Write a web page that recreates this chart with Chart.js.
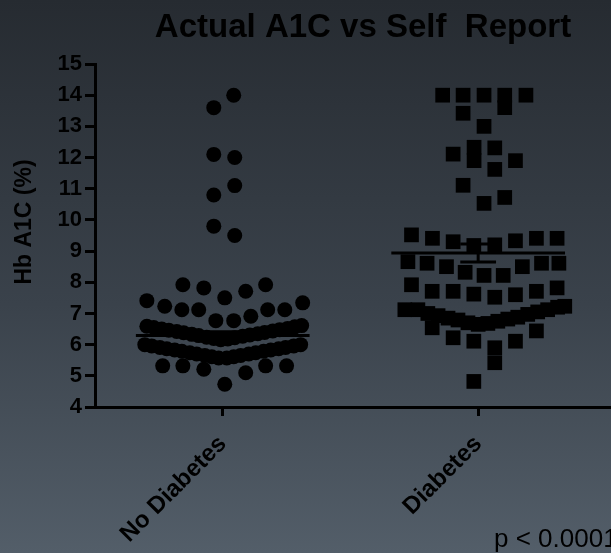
<!DOCTYPE html>
<html>
<head>
<meta charset="utf-8">
<script src="https://cdn.jsdelivr.net/npm/chart.js@4.4.1/dist/chart.umd.min.js"></script>
<style>
    html, body { margin: 0; padding: 0; }
    body {
        width: 611px;
        height: 553px;
        overflow: hidden;
        background: linear-gradient(to bottom, #262b31 0%, #3a424b 55%, #535e69 100%);
    }
    canvas { display: block; }
</style>
</head>
<body>
<canvas id="a1cChart" width="611" height="553"></canvas>
<script>
// groups on the x axis
const groupLabels = ['No Diabetes', 'Diabetes'];
const groupCenters = [0.5, 1.5];

// mean and SEM bars
const groupMeans = [6.29, 8.94];
const groupSem = [0.12, 0.29];

// Hb A1C values (%) and their horizontal scatter offset, No Diabetes
const noDiabetesA1c = [
    14.0, 13.6, 12.1, 12.0, 11.1, 10.8, 9.8, 9.5,
    7.41, 7.23, 7.92, 7.12, 7.82, 7.12, 6.77, 7.5, 6.77, 7.71, 6.91, 7.92, 7.12, 7.12, 7.34,
    5.32, 5.32, 5.21, 4.73, 5.1, 5.32, 5.32,
    6.59, 6.55, 6.50, 6.46, 6.42, 6.38, 6.33, 6.29, 6.24, 6.20, 6.16,
    6.18, 6.22, 6.27, 6.31, 6.35, 6.39, 6.44, 6.48, 6.52, 6.57, 6.61,
    6.0, 5.96, 5.91, 5.87, 5.83, 5.79, 5.74, 5.70, 5.65, 5.61, 5.57,
    5.57, 5.61, 5.65, 5.70, 5.74, 5.79, 5.83, 5.87, 5.91, 5.96, 6.0
];
const noDiabetesJitter = [
    0.043, -0.035, -0.035, 0.047, 0.047, -0.035, -0.035, 0.047,
    -0.297, -0.227, -0.156, -0.160, -0.074, -0.094, -0.027, 0.008, 0.043, 0.090, 0.110, 0.168, 0.176, 0.243, 0.313,
    -0.235, -0.156, -0.074, 0.008, 0.090, 0.168, 0.250,
    -0.297, -0.270, -0.239, -0.211, -0.180, -0.153, -0.121, -0.094, -0.063, -0.035, -0.008,
    0.020, 0.047, 0.078, 0.106, 0.137, 0.164, 0.196, 0.223, 0.254, 0.282, 0.309,
    -0.305, -0.278, -0.246, -0.219, -0.188, -0.160, -0.129, -0.102, -0.070, -0.043, -0.016,
    0.016, 0.043, 0.070, 0.102, 0.129, 0.160, 0.188, 0.219, 0.246, 0.278, 0.305
];

// Hb A1C values (%) and their horizontal scatter offset, Diabetes
const diabetesA1c = [
    14.0, 14.0, 14.0, 14.0, 13.6, 14.0, 13.42, 13.0,
    12.11, 12.33, 11.9, 12.31, 11.9, 11.62, 11.11, 10.53, 10.72,
    9.52, 9.41, 9.3, 9.18, 9.2, 9.33, 9.41, 9.41,
    8.66, 8.61, 8.5, 8.32, 8.22, 8.22, 8.5, 8.61, 8.61,
    7.92, 7.71, 7.71, 7.62, 7.52, 7.6, 7.71, 7.82,
    7.12, 7.12, 7.0, 6.93, 6.85, 6.79, 6.7, 6.65, 6.68, 6.75, 6.82, 6.88, 6.97, 7.05, 7.12, 7.2, 7.23,
    6.54, 6.22, 6.11, 5.9, 5.42, 6.11, 6.44, 4.82
];
const diabetesJitter = [
    -0.139, -0.059, 0.023, 0.104, 0.104, 0.187, -0.059, 0.023,
    -0.098, -0.016, -0.016, 0.065, 0.146, 0.065, -0.059, 0.023, 0.104,
    -0.261, -0.179, -0.098, -0.017, 0.065, 0.146, 0.228, 0.309,
    -0.275, -0.200, -0.124, -0.051, 0.023, 0.098, 0.173, 0.248, 0.316,
    -0.261, -0.180, -0.098, -0.017, 0.065, 0.146, 0.228, 0.309,
    -0.287, -0.236, -0.197, -0.157, -0.118, -0.079, -0.040, 0.000, 0.038, 0.077, 0.116, 0.155, 0.194, 0.233, 0.272, 0.311, 0.339,
    -0.180, -0.098, -0.017, 0.065, 0.065, 0.146, 0.228, -0.017
];

const FONT = "'Liberation Sans', Arial, sans-serif";

function groupPoints(values, jitter, group) {
    return values.map((v, i) => ({x: groupCenters[group] + jitter[i], y: v}));
}

// mean line + SEM bar with caps, broken by null points
function summaryLines(group) {
    const c = groupCenters[group], m = groupMeans[group], s = groupSem[group];
    return [
        {x: c - 0.34, y: m}, {x: c + 0.34, y: m}, {x: c, y: null},
        {x: c, y: m - s}, {x: c, y: m + s}, {x: c, y: null},
        {x: c - 0.07, y: m + s}, {x: c + 0.07, y: m + s}, {x: c, y: null},
        {x: c - 0.07, y: m - s}, {x: c + 0.07, y: m - s}
    ];
}

// title, y title and p value
const textPlugin = {
    id: 'texts',
    afterDraw(chart) {
        const ctx = chart.ctx;
        ctx.save();
        ctx.fillStyle = '#000';
        ctx.textAlign = 'center';
        ctx.textBaseline = 'middle';
        ctx.font = 'bold 33px ' + FONT;
        ctx.fillText('Actual A1C vs Self  Report', 363, 28);

        ctx.save();
        ctx.translate(25, 222);
        ctx.rotate(-Math.PI / 2);
        ctx.font = 'bold 23px ' + FONT;
        ctx.fillText('Hb A1C (%)', 0, 0);
        ctx.restore();

        ctx.textAlign = 'left';
        ctx.textBaseline = 'alphabetic';
        ctx.font = '26px ' + FONT;
        ctx.fillText('p < 0.0001', 494, 547);
        ctx.restore();
    }
};

const ctx = document.getElementById('a1cChart');
new Chart(ctx, {
    type: 'scatter',
    data: {
        datasets: [
            {
                data: groupPoints(noDiabetesA1c, noDiabetesJitter, 0),
                pointStyle: 'circle',
                pointRadius: 7.5,
                backgroundColor: '#000',
                borderWidth: 0
            },
            {
                data: groupPoints(diabetesA1c, diabetesJitter, 1),
                pointStyle: 'rect',
                pointRadius: 10.4,
                backgroundColor: '#000',
                borderWidth: 0
            },
            {
                data: summaryLines(0),
                showLine: true,
                spanGaps: false,
                pointRadius: 0,
                borderColor: '#000',
                borderWidth: 3
            },
            {
                data: summaryLines(1),
                showLine: true,
                spanGaps: false,
                pointRadius: 0,
                borderColor: '#000',
                borderWidth: 3
            }
        ]
    },
    options: {
        responsive: false,
        animation: false,
        events: [],
        layout: {autoPadding: false, padding: {top: 64, right: 0, bottom: 0, left: 0}},
        plugins: {
            legend: {display: false},
            tooltip: {enabled: false}
        },
        scales: {
            x: {
                type: 'linear',
                min: 0,
                max: 2.02,
                afterBuildTicks: (scale) => {
                    scale.ticks = groupCenters.map(v => ({value: v}));
                },
                afterFit: (scale) => {
                    scale.height = 146;
                    scale.paddingLeft = 0;
                    scale.paddingRight = 0;
                },
                ticks: {
                    callback: (value, index) => groupLabels[index],
                    autoSkip: false,
                    maxRotation: 45,
                    minRotation: 45,
                    color: '#000',
                    padding: 14,
                    font: {family: FONT, size: 24, weight: 'bold'}
                },
                grid: {drawOnChartArea: false, color: '#000', lineWidth: 3, tickLength: 9},
                border: {color: '#000', width: 3}
            },
            y: {
                min: 4,
                max: 15,
                afterFit: (scale) => {
                    scale.width = 95;
                    scale.paddingTop = 0;
                    scale.paddingBottom = 0;
                },
                ticks: {
                    stepSize: 1,
                    color: '#000',
                    padding: 3,
                    font: {family: FONT, size: 22, weight: 'bold'}
                },
                grid: {drawOnChartArea: false, color: '#000', lineWidth: 3, tickLength: 10},
                border: {color: '#000', width: 3}
            }
        }
    },
    plugins: [textPlugin]
});
</script>
</body>
</html>
